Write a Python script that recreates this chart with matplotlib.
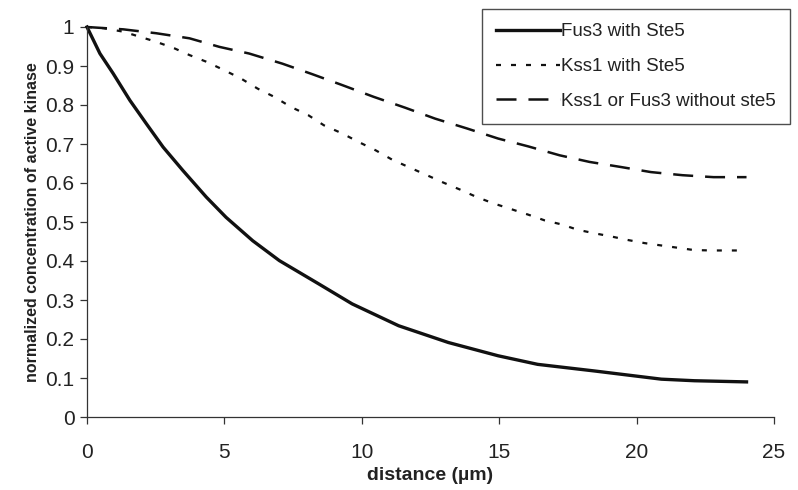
import numpy as np
import matplotlib
matplotlib.use("Agg")
from matplotlib import pyplot as plt

# values
fus3_x = [0, 0.47, 0.95, 1.56, 2.16, 2.77, 3.49, 4.34, 5.06, 6.03, 7.0, 7.72, 8.44,
          9.65, 11.34, 13.15, 14.96, 16.4, 18.47, 20.9, 22.1, 24.0]
fus3_y = [1.0, 0.932, 0.881, 0.812, 0.752, 0.692, 0.632, 0.564, 0.512, 0.452, 0.401,
          0.371, 0.341, 0.290, 0.234, 0.191, 0.157, 0.135, 0.118, 0.097, 0.093, 0.090]

kss1_x = [0, 0.6, 1.32, 1.92, 2.52, 3.19, 3.73, 4.34, 5.0, 5.6, 6.21, 6.81, 7.42, 8.05,
          8.62, 9.29, 9.89, 10.5, 11.1, 11.7, 12.37, 12.97, 13.58, 14.18, 14.78, 15.39,
          16.05, 16.66, 17.26, 17.86, 18.47, 19.07, 19.67, 20.28, 20.88, 21.49, 22.09,
          22.75, 23.3, 24.0]
kss1_y = [1.0, 0.997, 0.988, 0.975, 0.962, 0.945, 0.928, 0.911, 0.889, 0.868, 0.842,
          0.821, 0.795, 0.774, 0.748, 0.727, 0.705, 0.684, 0.660, 0.641, 0.620, 0.601,
          0.583, 0.564, 0.548, 0.534, 0.519, 0.504, 0.494, 0.480, 0.471, 0.463, 0.454,
          0.446, 0.440, 0.434, 0.428, 0.427, 0.427, 0.427]

nost5_x = [0, 1.32, 2.52, 3.73, 4.82, 5.9, 7.11, 8.2, 9.29, 10.43, 11.58, 12.67, 13.82,
           14.96, 16.05, 17.2, 18.29, 19.43, 20.52, 21.67, 22.8, 24.0]
nost5_y = [1.0, 0.994, 0.984, 0.971, 0.949, 0.932, 0.906, 0.879, 0.851, 0.821, 0.793,
           0.765, 0.740, 0.714, 0.694, 0.671, 0.654, 0.641, 0.628, 0.620, 0.615, 0.615]

labels = ["Fus3 with Ste5", "Kss1 with Ste5", "Kss1 or Fus3 without ste5"]
xticks = [0, 5, 10, 15, 20, 25]
yticks = [0, 0.1, 0.2, 0.3, 0.4, 0.5, 0.6, 0.7, 0.8, 0.9, 1]
ytick_labels = ["0", "0.1", "0.2", "0.3", "0.4", "0.5", "0.6", "0.7", "0.8", "0.9", "1"]

plt.rcParams['font.family'] = ['Liberation Sans', 'DejaVu Sans']
plt.rcParams['lines.scale_dashes'] = False

fig = plt.figure(figsize=(7.98, 4.90), dpi=100)
ax = fig.add_axes([87 / 798, 1 - 417 / 490, (774 - 87) / 798, (417 - 27) / 490])

ink = "#111111"
ax.plot(fus3_x, fus3_y, color=ink, lw=2.4, label=labels[0], clip_on=False)
ax.plot(kss1_x, kss1_y, color=ink, lw=1.6, dashes=(3.6, 7.2), label=labels[1], clip_on=False)
ax.plot(nost5_x, nost5_y, color=ink, lw=1.8, dashes=(14.4, 8.6), label=labels[2], clip_on=False)

ax.set_xlim(0, 25)
ax.set_ylim(0, 1)
ax.set_xticks(xticks)
ax.set_yticks(yticks)
ax.set_yticklabels(ytick_labels)
ax.tick_params(axis='both', direction='out', length=5, width=0.9, colors="#333333",
               labelsize=15, labelcolor="#222222")
ax.tick_params(axis='x', pad=14)
ax.tick_params(axis='y', pad=4)

for side in ['top', 'right']:
    ax.spines[side].set_visible(False)
for side in ['left', 'bottom']:
    ax.spines[side].set_linewidth(0.9)
    ax.spines[side].set_color("#333333")

ax.set_xlabel("distance (\u00b5m)", fontsize=14, fontweight='bold', color="#222222", labelpad=3)
ax.set_ylabel("normalized concentration of active kinase", fontsize=11.5, fontweight='bold',
              color="#222222", labelpad=4)

leg = ax.legend(loc='upper left', bbox_to_anchor=(482 / 798, 1 - 9 / 490),
                bbox_transform=fig.transFigure, fontsize=13.5, frameon=True,
                fancybox=False, handlelength=3.4, handletextpad=0.05,
                labelspacing=0.95, borderpad=0.75, borderaxespad=0)
leg.get_frame().set_edgecolor("#222222")
leg.get_frame().set_linewidth(1.0)
for t in leg.get_texts():
    t.set_color("#222222")

fig.savefig("out.png", dpi=100)
